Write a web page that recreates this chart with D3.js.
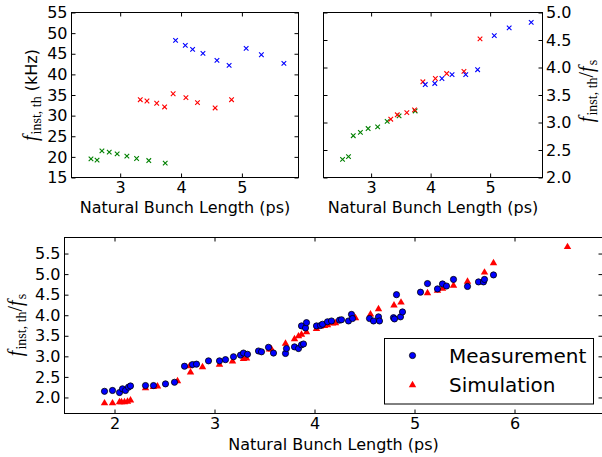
<!DOCTYPE html>
<html><head><meta charset="utf-8">
<script src="https://cdn.jsdelivr.net/npm/d3@7"></script>
<style>
body{margin:0;background:#fff;}
svg{display:block;}
text{font-family:"DejaVu Sans",sans-serif;}
</style>
</head><body>
<svg id="c" width="602" height="457"></svg>
<script>
// ---------- data ----------
// top panels: threshold vs natural bunch length, three groups
const greenLen   = [2.52,2.62,2.70,2.82,2.95,3.11,3.27,3.47,3.74];
const redLen     = [3.33,3.44,3.60,3.73,3.87,4.08,4.27,4.56,4.83];
const blueLen    = [3.91,4.07,4.19,4.36,4.59,4.79,5.07,5.32,5.69];
const greenKHz   = [19.52,19.21,21.46,21.14,20.73,20.17,19.60,19.11,18.48];
const redKHz     = [33.86,33.55,33.00,32.10,35.30,34.35,33.14,31.86,33.86];
const blueKHz    = [48.23,47.02,46.05,45.08,43.39,42.18,46.29,44.75,42.67];
const greenRatio = [2.33,2.38,2.76,2.82,2.89,2.92,3.02,3.12,3.21];
const redRatio   = [3.06,3.14,3.18,3.23,3.74,3.80,3.89,3.93,4.52];
const blueRatio  = [3.69,3.71,3.80,3.87,3.87,3.96,4.58,4.72,4.82];

// bottom panel
const measLen = [1.90,1.98,2.05,2.08,2.11,2.14,2.16,2.31,2.39,2.51,2.60,2.70,2.78,2.82,2.94,3.05,3.11,3.19,3.26,3.29,3.33,3.44,3.47,3.54,3.59,3.71,3.72,3.80,3.84,3.87,3.89,3.87,3.91,3.92,4.02,4.06,4.08,4.13,4.17,4.25,4.27,4.34,4.37,4.38,4.55,4.59,4.64,4.65,4.79,4.80,4.82,4.86,4.88,5.06,5.13,5.23,5.28,5.32,5.39,5.53,5.64,5.69,5.70,5.79];
const measRatio = [2.15,2.17,2.12,2.21,2.17,2.25,2.28,2.29,2.29,2.33,2.37,2.76,2.80,2.81,2.89,2.89,2.92,2.99,3.03,3.08,3.05,3.13,3.11,3.22,3.08,3.07,3.19,3.23,3.19,3.28,3.30,3.74,3.69,3.82,3.74,3.75,3.78,3.84,3.86,3.88,3.89,3.86,4.02,3.92,3.92,3.86,3.96,3.86,3.94,3.91,4.50,3.96,4.08,4.56,4.77,4.64,4.76,4.71,4.87,4.70,4.81,4.81,4.87,4.98];
const simLen = [1.90,1.98,2.05,2.07,2.10,2.13,2.16,2.31,2.39,2.43,2.63,2.75,2.76,2.88,3.05,3.18,3.29,3.32,3.55,3.57,3.71,3.80,3.84,3.87,3.92,4.02,4.06,4.10,4.13,4.18,4.21,4.39,4.41,4.56,4.64,4.795,4.865,5.13,5.23,5.28,5.39,5.53,5.70,5.79,6.53];
const simRatio = [1.86,1.86,1.89,1.89,1.89,1.90,1.93,2.23,2.26,2.27,2.40,2.76,2.61,2.74,2.80,2.88,2.94,2.95,3.17,3.17,3.31,3.42,3.49,3.53,3.59,3.67,3.73,3.74,3.76,3.80,3.81,3.94,3.93,4.02,4.15,4.24,4.31,4.54,4.60,4.65,4.72,4.82,5.04,5.27,5.66];

const topXTicks = [3,4,5];
const kHzTicks = [15,20,25,30,35,40,45,50,55];
const ratioTopTicks = [2.0,2.5,3.0,3.5,4.0,4.5,5.0];
const bottomXTicks = [2,3,4,5,6];
const ratioBottomTicks = [2.0,2.5,3.0,3.5,4.0,4.5,5.0,5.5];
const xLabel = "Natural Bunch Length (ps)";
const legendNames = ["Measurement","Simulation"];

// ---------- drawing ----------
const svg = d3.select("#c");
const FS = 16;

function panel(p){
  const g = svg.append("g");
  const x = d3.scaleLinear().domain(p.xd).range([p.x0,p.x1]);
  const y = d3.scaleLinear().domain(p.yd).range([p.y1,p.y0]);
  const fmtY = p.yfmt;
  // bottom axis with labels
  const ab = g.append("g").attr("transform",`translate(0,${p.y1})`)
    .call(d3.axisBottom(x).tickValues(p.xt).tickFormat(d3.format("d")).tickSizeInner(-4).tickSizeOuter(0).tickPadding(4.5));
  const at = g.append("g").attr("transform",`translate(0,${p.y0})`)
    .call(d3.axisTop(x).tickValues(p.xt).tickFormat("").tickSizeInner(-4).tickSizeOuter(0));
  const al = g.append("g").attr("transform",`translate(${p.x0},0)`)
    .call((p.labelSide==="left"?d3.axisLeft(y).tickFormat(fmtY).tickPadding(4):d3.axisLeft(y).tickFormat(""))
      .tickValues(p.yt).tickSizeInner(-4).tickSizeOuter(0));
  const ar = g.append("g").attr("transform",`translate(${p.x1},0)`)
    .call((p.labelSide==="right"?d3.axisRight(y).tickFormat(fmtY).tickPadding(3.5):d3.axisRight(y).tickFormat(""))
      .tickValues(p.yt).tickSizeInner(-4).tickSizeOuter(0));
  [ab,at,al,ar].forEach(a=>{
    a.select(".domain").remove();
    a.selectAll("line").attr("stroke","#000").attr("stroke-width",1);
    a.selectAll("text").attr("font-size",FS).attr("fill","#000").attr("font-family","DejaVu Sans");
  });
  g.append("rect").attr("x",p.x0).attr("y",p.y0).attr("width",p.x1-p.x0).attr("height",p.y1-p.y0)
    .attr("fill","none").attr("stroke","#000").attr("stroke-width",1);
  return {g,x,y};
}

function xMarks(P, xs, ys, color){
  const s = 2.3;
  const gg = P.g.append("g").attr("stroke",color).attr("stroke-width",1.1);
  xs.forEach((v,i)=>{
    const cx = P.x(v), cy = P.y(ys[i]);
    gg.append("path").attr("d",`M${cx-s},${cy-s}L${cx+s},${cy+s}M${cx-s},${cy+s}L${cx+s},${cy-s}`);
  });
}

function ratioLabel(sel){
  sel.append("tspan").attr("font-family","Liberation Serif").attr("font-style","italic").attr("font-size",20).text("f");
  sel.append("tspan").attr("font-family","Liberation Serif").attr("font-size",14).attr("dy",4).attr("dx",1).text("inst, th");
  sel.append("tspan").attr("font-family","Liberation Serif").attr("font-size",20).attr("dy",-4).text("/");
  sel.append("tspan").attr("font-family","Liberation Serif").attr("font-style","italic").attr("font-size",20).text("f");
  sel.append("tspan").attr("font-family","Liberation Serif").attr("font-size",14).attr("dy",4).attr("dx",1).text("s");
}

// Top-left
const TL = panel({x0:71.5,x1:298.5,y0:12.5,y1:177.5,xd:[2.2,5.93],yd:[15,55],xt:topXTicks,yt:kHzTicks,yfmt:d3.format("d"),labelSide:"left"});
xMarks(TL, greenLen, greenKHz, "#008000");
xMarks(TL, redLen, redKHz, "#ff0000");
xMarks(TL, blueLen, blueKHz, "#0000ff");
svg.append("text").attr("x",185).attr("y",213).attr("text-anchor","middle").attr("font-size",FS).text(xLabel);
{
  const t = svg.append("text").attr("transform","translate(37,95) rotate(-90)").attr("text-anchor","middle");
  t.append("tspan").attr("font-family","Liberation Serif").attr("font-style","italic").attr("font-size",20).text("f");
  t.append("tspan").attr("font-family","Liberation Serif").attr("font-size",14).attr("dy",4).attr("dx",1).text("inst, th");
  t.append("tspan").attr("font-family","DejaVu Sans").attr("font-size",FS).attr("dy",-4).text("\u00a0(kHz)");
}

// Top-right
const TR = panel({x0:323.5,x1:542.5,y0:12.5,y1:177.5,xd:[2.2,5.88],yd:[2,5],xt:topXTicks,yt:ratioTopTicks,yfmt:d3.format(".1f"),labelSide:"right"});
xMarks(TR, greenLen, greenRatio, "#008000");
xMarks(TR, redLen, redRatio, "#ff0000");
xMarks(TR, blueLen, blueRatio, "#0000ff");
svg.append("text").attr("x",433).attr("y",213).attr("text-anchor","middle").attr("font-size",FS).text(xLabel);
ratioLabel(svg.append("text").attr("transform","translate(593,91) rotate(-90)").attr("text-anchor","middle"));

// Bottom
const B = panel({x0:64.5,x1:602.5,y0:237.5,y1:413.5,xd:[1.5,6.88],yd:[1.61,5.89],xt:bottomXTicks,yt:ratioBottomTicks,yfmt:d3.format(".1f"),labelSide:"left"});
const tri = d3.symbol().type(d3.symbolTriangle).size(24);
B.g.append("g").selectAll("path").data(simLen).join("path")
  .attr("d",tri).attr("fill","#ff0000")
  .attr("transform",(d,i)=>`translate(${B.x(d)},${B.y(simRatio[i])})`);
B.g.append("g").selectAll("circle").data(measLen).join("circle")
  .attr("cx",d=>B.x(d)).attr("cy",(d,i)=>B.y(measRatio[i])).attr("r",3.1)
  .attr("fill","#0000ff").attr("stroke","#000").attr("stroke-width",0.8);
svg.append("text").attr("x",333.5).attr("y",450).attr("text-anchor","middle").attr("font-size",FS).text(xLabel);
ratioLabel(svg.append("text").attr("transform","translate(22,325) rotate(-90)").attr("text-anchor","middle"));

// legend
const lg = svg.append("g");
lg.append("rect").attr("x",384.5).attr("y",338.5).attr("width",209).attr("height",65.5)
  .attr("fill","#fff").attr("stroke","#000").attr("stroke-width",1);
lg.append("circle").attr("cx",412.5).attr("cy",355.5).attr("r",3.1).attr("fill","#0000ff").attr("stroke","#000").attr("stroke-width",0.8);
lg.append("path").attr("d",tri).attr("fill","#ff0000").attr("transform","translate(412.5,385)");
lg.append("text").attr("x",449).attr("y",362.5).attr("font-size",20).text(legendNames[0]);
lg.append("text").attr("x",449).attr("y",392).attr("font-size",20).text(legendNames[1]);
</script>
</body></html>
